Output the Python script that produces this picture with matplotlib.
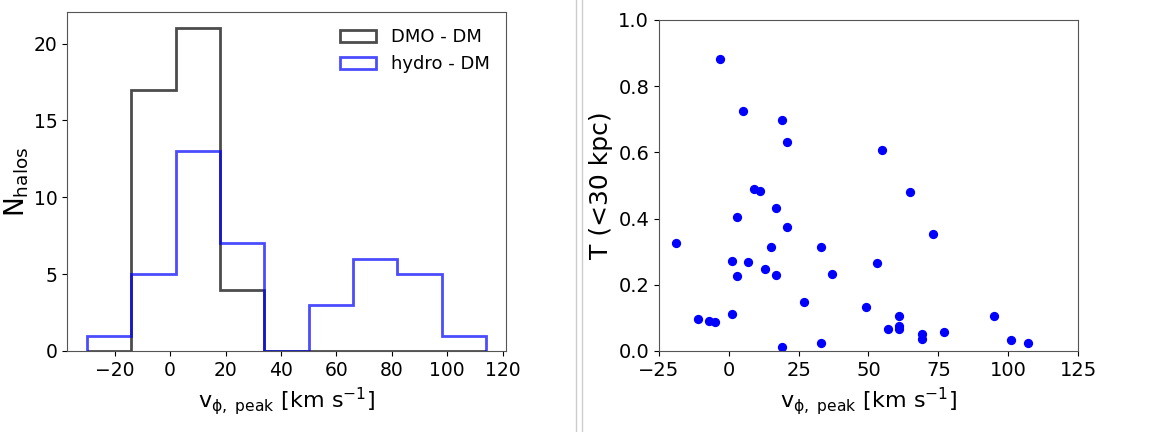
import numpy as np
import matplotlib
matplotlib.use('Agg')
import matplotlib.pyplot as plt
from matplotlib.lines import Line2D

# histogram bins and counts
bin_edges = [-30, -14, 2, 18, 34, 50, 66, 82, 98, 114]
dmo_counts = [0, 17, 21, 4, 0, 0, 0, 0, 0]
hydro_counts = [1, 5, 13, 7, 0, 3, 6, 5, 1]

# scatter points of the right panel
v_peak = [-19, -3, 5, 19, 21, 55, 65, 9, 11, 17, 3, 21, 73, 15, 33, 1, 7, 53,
          13, 17, 3, 37, 27, 49, 1, -11, -7, -5, 61, 61, 61, 57, 69, 69, 77,
          95, 101, 107, 33, 19]
t_30 = [0.326, 0.881, 0.726, 0.699, 0.631, 0.606, 0.479, 0.490, 0.482, 0.431,
        0.404, 0.375, 0.352, 0.315, 0.315, 0.272, 0.270, 0.266, 0.247, 0.231,
        0.227, 0.234, 0.148, 0.132, 0.111, 0.096, 0.092, 0.087, 0.107, 0.075,
        0.065, 0.066, 0.051, 0.037, 0.057, 0.106, 0.034, 0.023, 0.025, 0.011]

xlabel = r'$\mathrm{v_{\phi,\ peak}\ [km\ s^{-1}]}$'

fig = plt.figure(figsize=(11.58, 4.32), dpi=100)

# left panel: histograms
ax1 = fig.add_axes([0.0579, 0.1875, 0.379, 0.7845])
centers = 0.5 * (np.array(bin_edges[:-1]) + np.array(bin_edges[1:]))
ax1.hist(centers, bins=bin_edges, weights=dmo_counts, histtype='step',
         color='black', alpha=0.7, lw=2, label='DMO - DM')
ax1.hist(centers, bins=bin_edges, weights=hydro_counts, histtype='step',
         color='blue', alpha=0.7, lw=2, label='hydro - DM')
ax1.set_xticks([-20, 0, 20, 40, 60, 80, 100, 120])
ax1.set_yticks([0, 5, 10, 15, 20])
ax1.set_xlabel(xlabel, fontsize=16)
ax1.set_ylabel(r'$\mathrm{N_{halos}}$', fontsize=19, labelpad=2)
ax1.tick_params(labelsize=13.5)
ax1.legend(loc='upper right', frameon=False, fontsize=13)

# right panel: scatter
ax2 = fig.add_axes([0.569, 0.1875, 0.362, 0.7665])
ax2.scatter(v_peak, t_30, color='blue', s=32)
ax2.set_xlim(-25, 125)
ax2.set_ylim(0, 1)
ax2.set_xticks([-25, 0, 25, 50, 75, 100, 125])
ax2.set_xlabel(xlabel, fontsize=16)
ax2.set_ylabel('T (<30 kpc)', fontsize=18)
ax2.tick_params(labelsize=14)

for ax in (ax1, ax2):
    for sp in ax.spines.values():
        sp.set_color('#555555')

# thin separators between the two original images
fig.add_artist(Line2D([575.7 / 1158] * 2, [0, 1], color='#cccccc', lw=1))
fig.add_artist(Line2D([582.3 / 1158] * 2, [0, 1], color='#cccccc', lw=1))

fig.savefig('out.png', dpi=100)
